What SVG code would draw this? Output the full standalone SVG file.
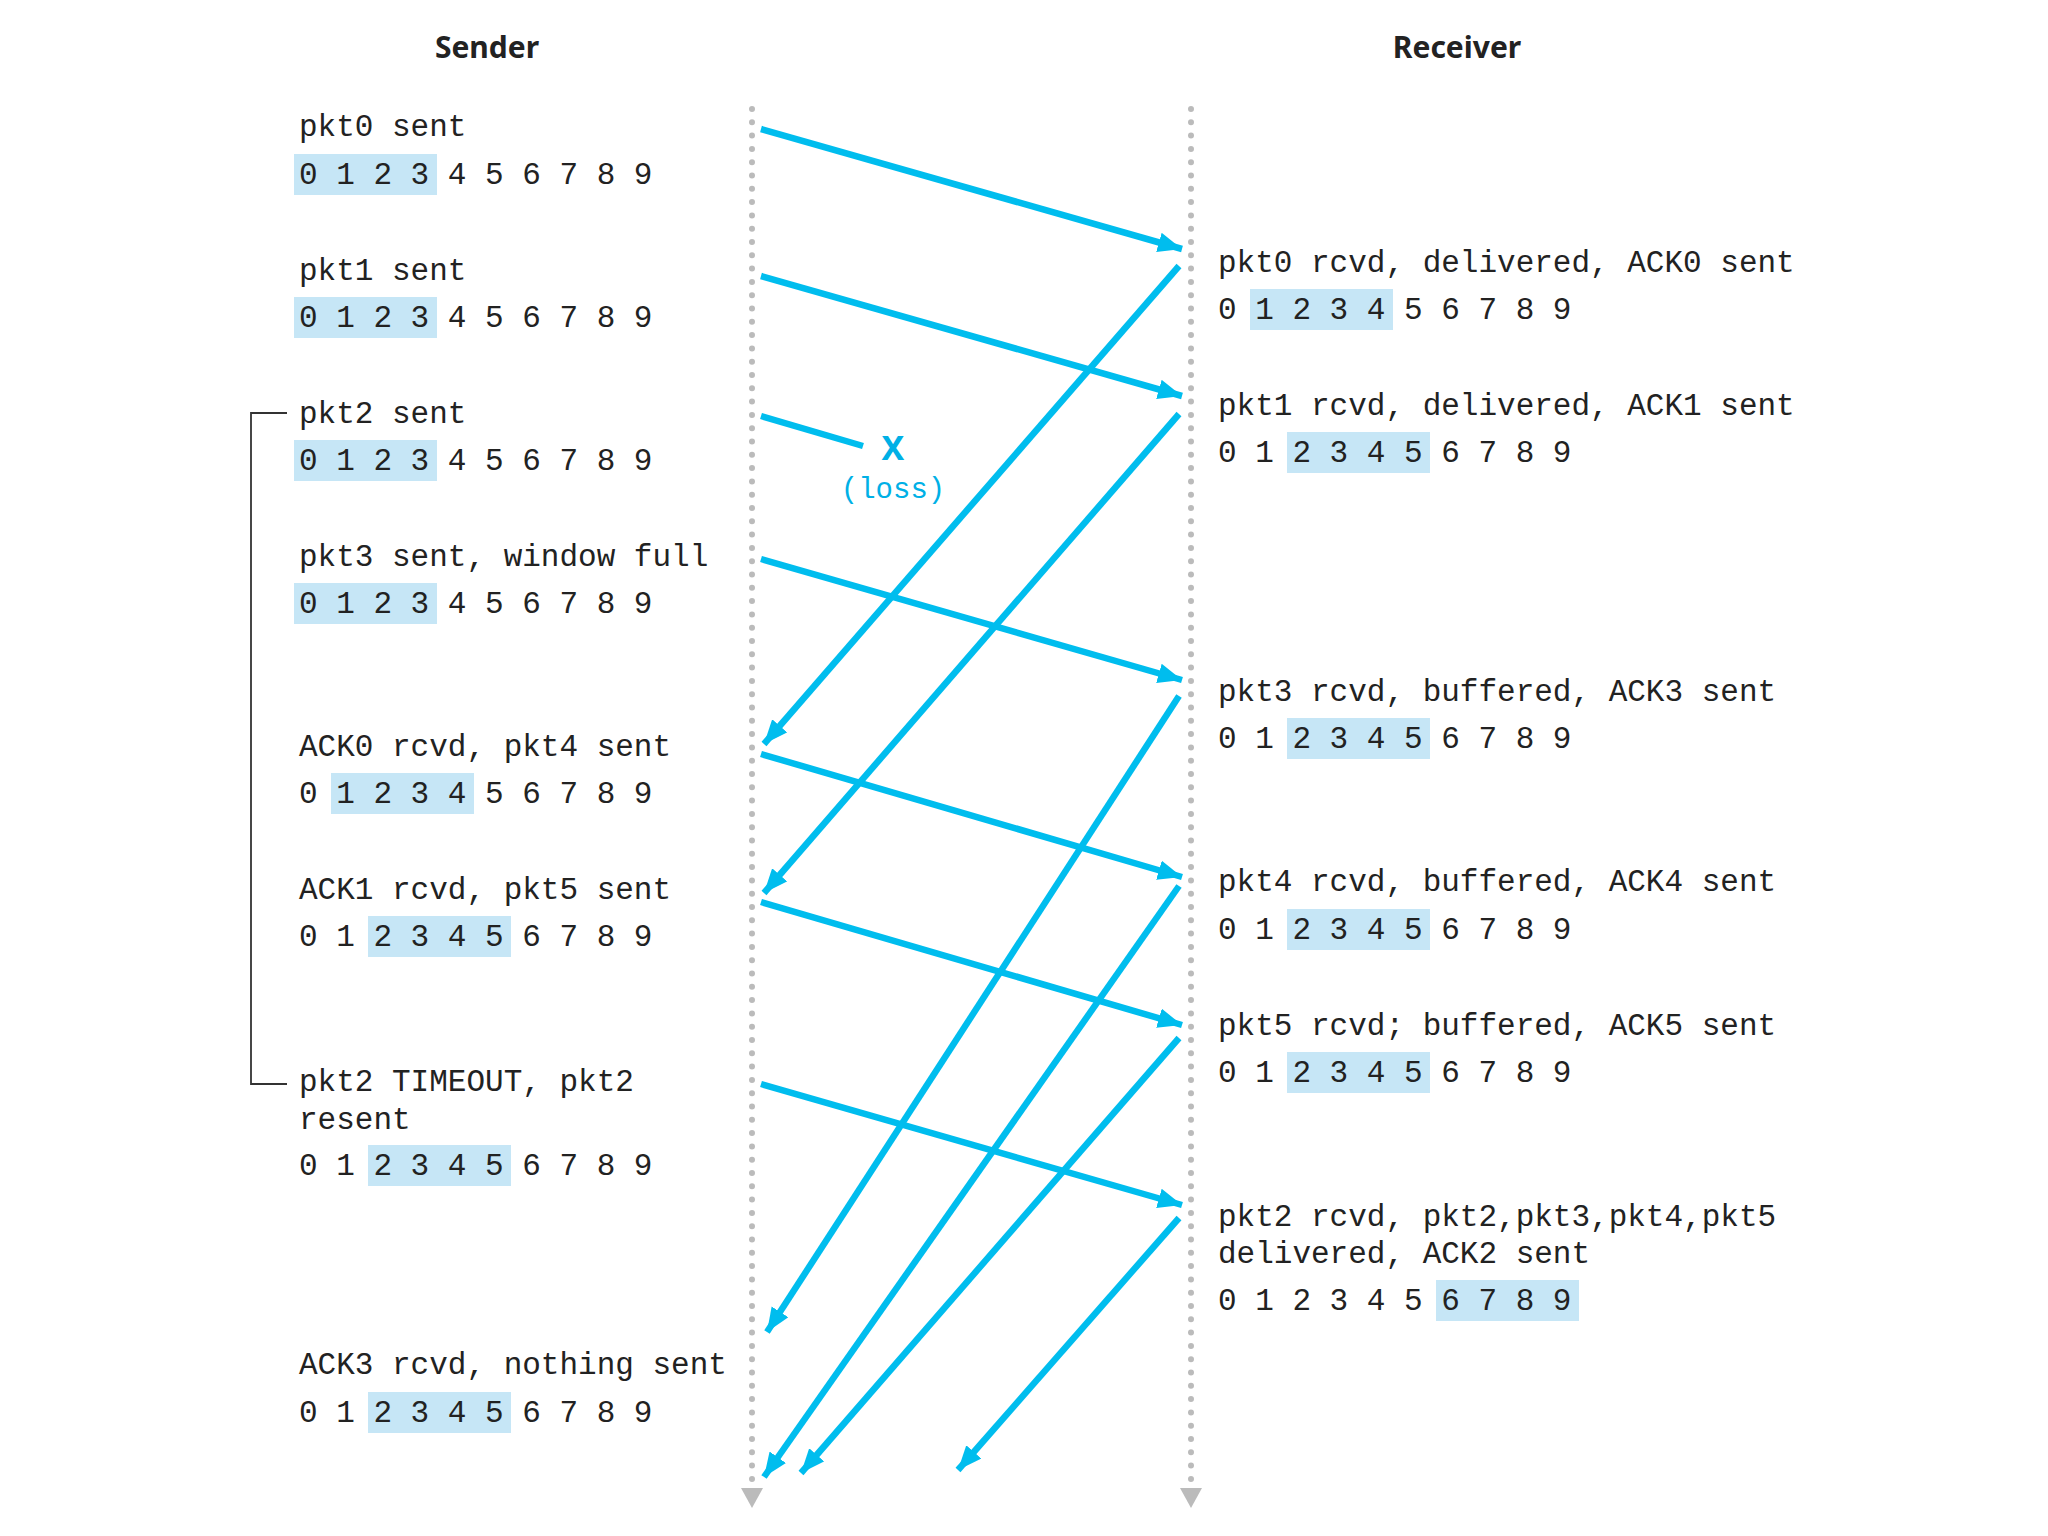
<svg xmlns="http://www.w3.org/2000/svg" width="2048" height="1536" viewBox="0 0 2048 1536">
<style>
.t{font-family:"Liberation Mono","DejaVu Sans Mono",monospace;font-size:31px;fill:#222}
.h{font-family:"Noto Sans","Liberation Sans",sans-serif;font-size:30px;font-weight:700;fill:#222}
.hl{fill:#c6e6f6}
.ar{stroke:#00bdee;stroke-width:6.5;fill:none;marker-end:url(#ah)}
.tl{stroke:#bbbbbb;stroke-width:6;stroke-linecap:round;stroke-dasharray:0 13.3;fill:none}
</style>
<defs>
<marker id="ah" markerUnits="userSpaceOnUse" markerWidth="30" markerHeight="24" refX="24" refY="10" orient="auto"><path d="M0,0 L24,10 L0,20 Z" fill="#00bdee"/></marker>
</defs>
<rect width="2048" height="1536" fill="#fff"/>
<text class="h" x="487" y="58" text-anchor="middle">Sender</text>
<text class="h" x="1457" y="58" text-anchor="middle">Receiver</text>
<g id="timelines">
<path class="tl" d="M752,109 V1480"/>
<path class="tl" d="M1191,109 V1480"/>
<path d="M741,1488 H763 L752,1508 Z" fill="#bbb"/>
<path d="M1180,1488 H1202 L1191,1508 Z" fill="#bbb"/>
</g>
<g id="bracket"><path d="M287,413 H251 V1084 H287" stroke="#333" stroke-width="1.8" fill="none"/></g>
<g id="s0"><rect class="hl" x="294" y="154" width="143" height="41"/><text class="t" x="299" y="136">pkt0 sent</text><text class="t" x="299" y="184">0 1 2 3 4 5 6 7 8 9</text></g>
<g id="s1"><rect class="hl" x="294" y="297" width="143" height="41"/><text class="t" x="299" y="280">pkt1 sent</text><text class="t" x="299" y="327">0 1 2 3 4 5 6 7 8 9</text></g>
<g id="s2"><rect class="hl" x="294" y="440" width="143" height="41"/><text class="t" x="299" y="423">pkt2 sent</text><text class="t" x="299" y="470">0 1 2 3 4 5 6 7 8 9</text></g>
<g id="s3"><rect class="hl" x="294" y="583" width="143" height="41"/><text class="t" x="299" y="566">pkt3 sent, window full</text><text class="t" x="299" y="613">0 1 2 3 4 5 6 7 8 9</text></g>
<g id="s4"><rect class="hl" x="331" y="773" width="143" height="41"/><text class="t" x="299" y="756">ACK0 rcvd, pkt4 sent</text><text class="t" x="299" y="803">0 1 2 3 4 5 6 7 8 9</text></g>
<g id="s5"><rect class="hl" x="368" y="916" width="143" height="41"/><text class="t" x="299" y="899">ACK1 rcvd, pkt5 sent</text><text class="t" x="299" y="946">0 1 2 3 4 5 6 7 8 9</text></g>
<g id="s6"><rect class="hl" x="368" y="1145" width="143" height="41"/><text class="t" x="299" y="1091">pkt2 TIMEOUT, pkt2</text><text class="t" x="299" y="1129">resent</text><text class="t" x="299" y="1175">0 1 2 3 4 5 6 7 8 9</text></g>
<g id="s7"><rect class="hl" x="368" y="1392" width="143" height="41"/><text class="t" x="299" y="1374">ACK3 rcvd, nothing sent</text><text class="t" x="299" y="1422">0 1 2 3 4 5 6 7 8 9</text></g>
<g id="r0"><rect class="hl" x="1250" y="289" width="143" height="41"/><text class="t" x="1218" y="272">pkt0 rcvd, delivered, ACK0 sent</text><text class="t" x="1218" y="319">0 1 2 3 4 5 6 7 8 9</text></g>
<g id="r1"><rect class="hl" x="1287" y="432" width="143" height="41"/><text class="t" x="1218" y="415">pkt1 rcvd, delivered, ACK1 sent</text><text class="t" x="1218" y="462">0 1 2 3 4 5 6 7 8 9</text></g>
<g id="r3"><rect class="hl" x="1287" y="718" width="143" height="41"/><text class="t" x="1218" y="701">pkt3 rcvd, buffered, ACK3 sent</text><text class="t" x="1218" y="748">0 1 2 3 4 5 6 7 8 9</text></g>
<g id="r4"><rect class="hl" x="1287" y="909" width="143" height="41"/><text class="t" x="1218" y="891">pkt4 rcvd, buffered, ACK4 sent</text><text class="t" x="1218" y="939">0 1 2 3 4 5 6 7 8 9</text></g>
<g id="r5"><rect class="hl" x="1287" y="1052" width="143" height="41"/><text class="t" x="1218" y="1035">pkt5 rcvd; buffered, ACK5 sent</text><text class="t" x="1218" y="1082">0 1 2 3 4 5 6 7 8 9</text></g>
<g id="r2"><rect class="hl" x="1436" y="1280" width="143" height="41"/><text class="t" x="1218" y="1226">pkt2 rcvd, pkt2,pkt3,pkt4,pkt5</text><text class="t" x="1218" y="1263">delivered, ACK2 sent</text><text class="t" x="1218" y="1310">0 1 2 3 4 5 6 7 8 9</text></g>
<g id="loss">
<text x="893" y="460" text-anchor="middle" font-family="Noto Sans, Liberation Sans, sans-serif" font-size="34" font-weight="700" fill="#00b0e6">X</text>
<text x="893" y="498" text-anchor="middle" font-family="Liberation Mono, monospace" font-size="29" fill="#00b0e6">(loss)</text>
</g>
<g id="connectors">
<path class="ar" d="M761,129 L1182,249"/>
<path class="ar" d="M761,276 L1182,396"/>
<path d="M761,416 L863,446" stroke="#00bdee" stroke-width="6.5"/>
<path class="ar" d="M761,559 L1182,680"/>
<path class="ar" d="M761,754 L1182,877"/>
<path class="ar" d="M761,902 L1182,1025"/>
<path class="ar" d="M761,1084 L1182,1205"/>
<path class="ar" d="M1179,266 L764,744"/>
<path class="ar" d="M1179,414 L764,893"/>
<path class="ar" d="M1179,696 L767,1332"/>
<path class="ar" d="M1179,886 L764,1477"/>
<path class="ar" d="M1179,1038 L801,1473"/>
<path class="ar" d="M1179,1218 L958,1470"/>
</g>
</svg>
